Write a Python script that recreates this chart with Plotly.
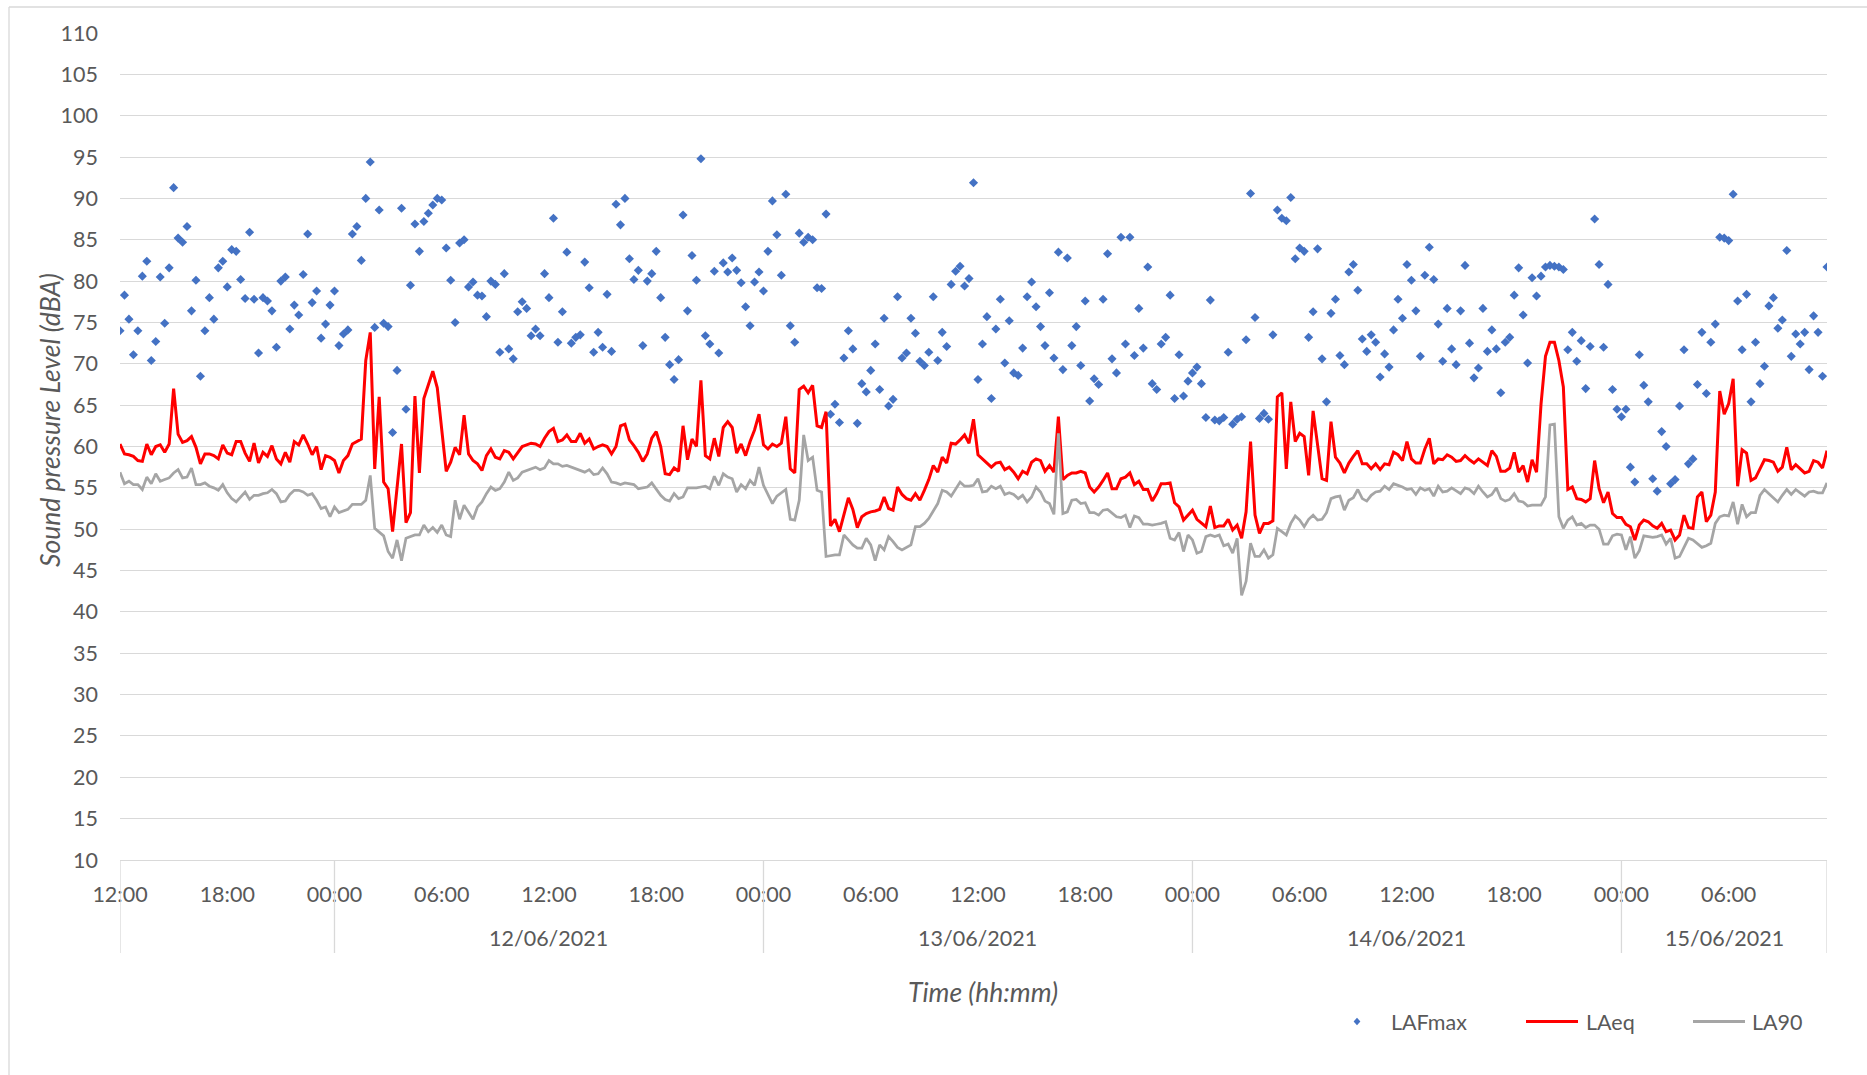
import pandas as pd
import plotly.graph_objects as go

# ---------------- data (15-minute samples from 11/06/2021 12:00) ----------------
START = "2021-06-11 12:00"
STEP = "15min"

LAFMAX = [
    74.0, 78.3, 75.4, 71.1, 74.0, 80.6, 82.4, 70.4, 72.7, 80.5, 74.9, 81.6, 91.3, 85.2, 84.7, 86.6,
    76.4, 80.1, 68.5, 74.0, 78.0, 75.4, 81.6, 82.4, 79.3, 83.8, 83.6, 80.2, 77.9, 85.9, 77.8, 71.3,
    78.0, 77.6, 76.4, 72.0, 80.0, 80.5, 74.2, 77.1, 75.9, 80.8, 85.7, 77.4, 78.8, 73.1, 74.8, 77.1,
    78.8, 72.2, 73.6, 74.1, 85.7, 86.6, 82.5, 90.0, 94.4, 74.4, 88.6, 74.9, 74.5, 61.7, 69.2, 88.8,
    64.5, 79.5, 86.9, 83.6, 87.2, 88.2, 89.2, 90.0, 89.8, 84.0, 80.1, 75.0, 84.6, 85.0, 79.3, 79.9,
    78.3, 78.2, 75.7, 80.0, 79.6, 71.4, 80.9, 71.8, 70.6, 76.3, 77.5, 76.7, 73.4, 74.2, 73.4, 80.9,
    78.0, 87.6, 72.6, 76.3, 83.5, 72.5, 73.2, 73.5, 82.3, 79.2, 71.4, 73.8, 72.0, 78.4, 71.5, 89.3,
    86.8, 90.0, 82.7, 80.2, 81.3, 72.2, 80.0, 80.9, 83.6, 78.0, 73.2, 69.9, 68.1, 70.5, 88.0, 76.4,
    83.1, 80.1, 94.8, 73.4, 72.4, 81.2, 71.3, 82.2, 81.1, 82.8, 81.3, 79.8, 76.9, 74.6, 79.9, 81.1,
    78.8, 83.6, 89.7, 85.6, 80.7, 90.5, 74.6, 72.6, 85.8, 84.7, 85.3, 85.0, 79.2, 79.1, 88.1, 63.9,
    65.1, 62.9, 70.7, 74.0, 71.8, 62.8, 67.6, 66.6, 69.2, 72.4, 66.9, 75.5, 64.9, 65.7, 78.1, 70.7,
    71.3, 75.5, 73.7, 70.3, 69.8, 71.4, 78.1, 70.4, 73.8, 72.1, 79.6, 81.2, 81.8, 79.4, 80.3, 91.9,
    68.1, 72.4, 75.7, 65.8, 74.2, 77.8, 70.1, 75.2, 68.9, 68.6, 71.9, 78.1, 79.9, 76.9, 74.5, 72.2,
    78.6, 70.7, 83.5, 69.3, 82.8, 72.2, 74.5, 69.8, 77.6, 65.5, 68.2, 67.5, 77.8, 83.3, 70.6, 68.9,
    85.3, 72.4, 85.3, 71.0, 76.7, 71.9, 81.7, 67.6, 66.9, 72.4, 73.2, 78.3, 65.8, 71.1, 66.1, 67.9,
    68.9, 69.6, 67.6, 63.5, 77.7, 63.2, 63.1, 63.5, 71.4, 62.7, 63.3, 63.6, 72.9, 90.6, 75.6, 63.4,
    64.0, 63.3, 73.5, 88.6, 87.6, 87.3, 90.1, 82.7, 84.0, 83.6, 73.2, 76.3, 83.9, 70.6, 65.4, 76.1,
    77.8, 71.0, 69.9, 81.1, 82.0, 78.9, 73.0, 71.5, 73.5, 72.6, 68.4, 71.2, 69.6, 74.1, 77.8, 75.5,
    82.0, 80.1, 76.4, 70.9, 80.7, 84.1, 80.2, 74.8, 70.3, 76.7, 71.8, 69.9, 76.4, 81.9, 72.5, 68.3,
    69.5, 76.7, 71.5, 74.1, 71.8, 66.5, 72.6, 73.2, 78.3, 81.6, 75.9, 70.1, 80.4, 78.2, 80.6, 81.7,
    81.9, 81.8, 81.7, 81.4, 71.7, 73.8, 70.3, 72.8, 67.0, 72.1, 87.5, 82.0, 72.0, 79.6, 66.9, 64.5,
    63.6, 64.5, 57.5, 55.7, 71.1, 67.4, 65.4, 56.1, 54.6, 61.8, 60.0, 55.5, 56.0, 64.9, 71.7, 57.9,
    58.5, 67.5, 73.8, 66.4, 72.6, 74.8, 85.3, 85.2, 84.9, 90.5, 77.6, 71.7, 78.4, 65.4, 72.6, 67.6,
    69.7, 77.0, 78.0, 74.3, 75.3, 83.7, 70.9, 73.6, 72.4, 73.8, 69.3, 75.8, 73.8, 68.5, 81.7,
]

LAEQ = [
    60.3, 59.1, 59.0, 58.8, 58.3, 58.2, 60.3, 59.0, 60.0, 60.2, 59.3, 60.3, 67.0, 61.5, 60.5, 60.7,
    61.2, 59.9, 57.9, 59.1, 59.1, 58.9, 58.5, 60.2, 59.2, 59.0, 60.6, 60.6, 59.2, 58.2, 60.4, 58.0,
    59.3, 58.8, 60.1, 58.5, 57.9, 59.3, 58.1, 60.6, 60.2, 61.4, 60.3, 59.0, 60.0, 57.2, 58.9, 58.7,
    58.3, 56.8, 58.3, 58.9, 60.3, 60.6, 60.9, 70.4, 73.8, 57.3, 66.0, 55.7, 54.9, 49.7, 55.0, 60.3,
    50.8, 52.0, 66.1, 56.8, 65.8, 67.4, 69.1, 67.1, 62.0, 57.0, 58.1, 59.9, 59.0, 63.8, 59.1, 58.3,
    57.9, 57.1, 58.9, 59.7, 58.7, 58.5, 59.5, 59.3, 58.5, 59.3, 60.0, 60.2, 60.4, 60.3, 60.0, 61.0,
    61.8, 62.2, 60.6, 60.8, 61.4, 60.6, 60.6, 61.6, 60.4, 60.9, 59.7, 60.0, 60.2, 60.0, 59.1, 60.0,
    62.5, 62.7, 60.8, 60.1, 59.3, 58.2, 59.1, 61.0, 61.8, 60.0, 56.7, 56.6, 57.4, 57.0, 62.5, 58.4,
    60.9, 60.0, 68.0, 58.9, 58.5, 61.0, 58.8, 62.3, 63.0, 62.3, 59.2, 60.3, 58.9, 60.6, 62.0, 63.9,
    60.2, 59.7, 60.3, 60.0, 60.4, 63.6, 57.3, 56.8, 66.9, 67.3, 66.5, 67.4, 62.5, 62.3, 64.2, 50.4,
    51.2, 49.7, 51.7, 53.8, 52.4, 50.2, 51.5, 51.9, 52.1, 52.2, 52.4, 53.9, 52.5, 52.3, 55.1, 54.2,
    53.7, 53.5, 54.3, 53.5, 54.7, 56.0, 57.7, 56.9, 58.7, 58.0, 60.4, 60.3, 60.8, 61.4, 60.4, 63.3,
    59.0, 58.5, 58.1, 57.5, 58.0, 58.1, 57.2, 57.5, 56.9, 56.1, 57.0, 56.7, 58.1, 58.5, 58.3, 57.0,
    57.7, 56.9, 63.6, 56.0, 56.5, 56.8, 56.8, 57.0, 56.8, 55.1, 54.5, 55.1, 55.9, 56.8, 54.9, 54.9,
    56.1, 56.3, 56.8, 55.4, 55.8, 54.8, 54.8, 53.4, 54.3, 55.5, 55.5, 55.6, 53.2, 52.7, 51.1, 51.7,
    52.3, 51.2, 50.7, 50.3, 52.8, 50.2, 50.4, 50.4, 51.2, 49.9, 50.5, 48.9, 52.1, 60.6, 51.7, 49.5,
    50.7, 50.7, 51.0, 66.0, 66.5, 57.3, 65.4, 60.6, 61.6, 61.2, 56.5, 64.3, 60.2, 56.1, 55.9, 63.0,
    58.7, 58.0, 56.8, 58.0, 58.8, 59.5, 57.9, 57.9, 57.3, 57.9, 57.2, 57.9, 57.8, 59.3, 59.0, 58.3,
    60.6, 58.5, 58.0, 58.0, 59.7, 61.0, 57.9, 58.5, 58.4, 59.0, 58.7, 58.2, 58.3, 58.9, 58.4, 58.0,
    58.5, 58.1, 57.7, 59.5, 58.8, 57.0, 57.0, 57.4, 59.3, 56.9, 57.7, 55.7, 58.4, 56.9, 65.1, 70.9,
    72.6, 72.6, 70.4, 67.2, 54.8, 55.1, 53.7, 53.6, 53.3, 53.7, 58.3, 54.9, 53.2, 54.5, 51.9, 51.4,
    51.4, 50.6, 50.3, 48.7, 50.5, 51.1, 50.9, 50.4, 50.1, 50.7, 49.7, 49.9, 48.7, 49.3, 51.7, 50.2,
    50.1, 53.9, 54.5, 50.9, 51.7, 54.5, 66.7, 63.9, 65.2, 68.2, 55.2, 59.6, 59.2, 55.9, 56.2, 57.3,
    58.4, 58.3, 58.1, 57.0, 57.5, 59.9, 57.2, 57.8, 57.3, 56.8, 57.0, 58.3, 58.1, 57.4, 59.5,
]

LA90 = [
    56.9, 55.5, 55.8, 55.4, 55.4, 54.8, 56.3, 55.5, 56.7, 55.8, 56.0, 56.2, 56.8, 57.2, 56.2, 56.3,
    57.4, 55.4, 55.4, 55.6, 55.2, 55.0, 54.7, 55.4, 54.4, 53.7, 53.3, 53.9, 54.5, 53.6, 54.1, 54.1,
    54.3, 54.4, 54.8, 54.3, 53.3, 53.4, 54.2, 54.7, 54.7, 54.5, 54.1, 54.3, 53.5, 52.5, 52.7, 51.5,
    52.7, 52.0, 52.2, 52.4, 53.0, 53.0, 53.0, 53.5, 56.5, 50.1, 49.6, 49.2, 47.3, 46.5, 48.7, 46.2,
    48.9, 49.1, 49.3, 49.3, 50.5, 49.7, 50.2, 49.6, 50.5, 49.3, 49.1, 53.5, 51.2, 52.9, 52.1, 51.2,
    52.7, 53.3, 54.3, 55.1, 54.7, 54.9, 55.7, 56.9, 55.9, 56.2, 56.9, 57.1, 57.3, 57.5, 57.2, 57.4,
    58.3, 57.9, 57.9, 57.6, 57.7, 57.5, 57.3, 57.1, 56.9, 57.2, 56.6, 56.7, 57.4, 56.7, 55.7, 55.6,
    55.4, 55.6, 55.5, 55.4, 54.9, 55.0, 55.1, 55.6, 54.9, 54.1, 53.6, 53.4, 54.3, 53.7, 53.9, 55.0,
    55.0, 55.0, 55.1, 55.2, 54.9, 56.4, 55.3, 56.7, 56.3, 56.1, 54.5, 55.4, 54.9, 55.9, 55.3, 57.5,
    55.3, 54.1, 53.1, 54.0, 54.4, 54.8, 51.2, 51.1, 53.5, 61.4, 58.3, 58.7, 54.7, 54.5, 46.7, 46.8,
    46.9, 46.9, 49.3, 48.7, 48.1, 47.7, 47.7, 48.9, 48.1, 46.2, 48.1, 47.5, 49.1, 48.5, 47.8, 47.5,
    47.8, 48.1, 50.3, 50.3, 50.7, 51.3, 52.2, 53.1, 54.7, 54.5, 54.0, 54.9, 55.7, 55.2, 55.2, 55.3,
    56.1, 54.5, 54.6, 55.2, 54.9, 55.2, 54.2, 54.4, 54.2, 53.7, 54.1, 53.3, 53.9, 55.1, 54.5, 53.4,
    53.1, 51.8, 61.6, 51.9, 52.1, 53.5, 53.6, 53.1, 53.2, 52.0, 52.0, 51.7, 52.3, 52.4, 52.0, 51.5,
    51.4, 51.7, 50.2, 51.6, 51.4, 50.6, 50.6, 50.5, 50.6, 50.7, 50.9, 48.9, 48.7, 49.6, 47.3, 49.3,
    48.7, 47.1, 47.3, 49.1, 49.3, 49.1, 49.3, 48.0, 48.2, 47.1, 48.9, 42.0, 43.7, 48.3, 46.7, 46.7,
    47.5, 46.5, 46.9, 50.1, 49.7, 49.3, 50.7, 51.6, 51.1, 50.3, 51.2, 51.7, 51.1, 51.2, 52.0, 53.7,
    53.9, 54.0, 52.3, 53.5, 53.8, 54.8, 53.7, 53.4, 54.1, 54.5, 54.6, 55.2, 54.8, 55.5, 55.3, 55.1,
    54.8, 54.9, 54.2, 55.0, 54.7, 54.9, 54.0, 55.2, 54.5, 54.6, 55.0, 54.7, 54.3, 55.0, 54.8, 54.3,
    55.2, 54.5, 53.9, 54.2, 55.0, 53.7, 53.4, 53.6, 54.3, 53.4, 53.3, 52.8, 52.9, 52.9, 52.9, 53.9,
    62.6, 62.7, 51.5, 50.1, 51.1, 51.5, 50.5, 50.7, 50.2, 50.5, 50.5, 50.0, 48.2, 48.2, 49.2, 49.4,
    49.3, 47.5, 49.1, 46.5, 47.4, 49.2, 49.1, 49.0, 49.1, 49.3, 48.2, 48.9, 46.5, 46.7, 47.8, 48.9,
    48.7, 48.2, 47.8, 48.0, 48.3, 50.7, 51.5, 51.7, 51.6, 53.3, 50.6, 53.0, 51.5, 52.0, 52.0, 54.1,
    54.8, 54.3, 53.8, 53.3, 54.1, 54.8, 54.2, 54.8, 54.4, 54.0, 54.5, 54.6, 54.4, 54.4, 55.6,
]

TICK_TIMES = pd.date_range("2021-06-11 12:00", "2021-06-15 06:00", freq="6h")
DAY_LABELS = ["12/06/2021", "13/06/2021", "14/06/2021", "15/06/2021"]
DAY_CENTERS = ["2021-06-12 12:00", "2021-06-13 12:00", "2021-06-14 12:00", "2021-06-15 05:45"]
SEPARATORS = ["2021-06-11 12:00", "2021-06-12 00:00", "2021-06-13 00:00",
              "2021-06-14 00:00", "2021-06-15 00:00", "2021-06-15 11:30"]
SERIES_NAMES = ["LAFmax", "LAeq", "LA90"]

times = pd.date_range(START, periods=len(LAEQ), freq=STEP)

# ---------------- layout geometry ----------------
W, H = 1867, 1075
ML, MR, MT, MB = 120, 40, 33, 215
PW, PH = W - ML - MR, H - MT - MB


def px(xpix):
    return (xpix - ML) / PW


def py(ypix):
    return (H - MB - ypix) / PH


FONT = "Lato, Carlito, Calibri, sans-serif"
TXT = "#595959"
GRID = "#d9d9d9"
BLUE, RED, GREY = "#4472C4", "#FF0000", "#A5A5A5"
TICK_SIZE = 21.5
TITLE_SIZE = 26.5

fig = go.Figure()
fig.add_trace(go.Scatter(x=times, y=LAFMAX, mode="markers", name=SERIES_NAMES[0],
                         marker=dict(symbol="diamond", size=7, color=BLUE)))
fig.add_trace(go.Scatter(x=times, y=LAEQ, mode="lines", name=SERIES_NAMES[1],
                         line=dict(color=RED, width=3)))
fig.add_trace(go.Scatter(x=times, y=LA90, mode="lines", name=SERIES_NAMES[2],
                         line=dict(color=GREY, width=2.75)))

shapes = []
for s in SEPARATORS:
    shapes.append(dict(type="line", xref="x", yref="paper", x0=s, x1=s, y0=0, y1=py(953),
                       line=dict(color=GRID, width=1.3)))
# chart-area border (left and top)
shapes.append(dict(type="line", xref="paper", yref="paper", x0=px(9), x1=px(9),
                   y0=py(7), y1=py(H + 5), line=dict(color=GRID, width=1.3)))
shapes.append(dict(type="line", xref="paper", yref="paper", x0=px(9), x1=px(W + 5),
                   y0=py(7), y1=py(7), line=dict(color=GRID, width=1.3)))

# legend (drawn manually to match the original placement)
LEG_Y = 1021.5
dx, dy = 3.4 / PW, 3.8 / PH
cx, cy = px(1357), py(LEG_Y)
shapes.append(dict(type="path", xref="paper", yref="paper",
                   path=f"M {cx - dx} {cy} L {cx} {cy + dy} L {cx + dx} {cy} L {cx} {cy - dy} Z",
                   fillcolor=BLUE, line=dict(color=BLUE, width=0)))
shapes.append(dict(type="line", xref="paper", yref="paper", x0=px(1526), x1=px(1578),
                   y0=py(LEG_Y), y1=py(LEG_Y), line=dict(color=RED, width=3)))
shapes.append(dict(type="line", xref="paper", yref="paper", x0=px(1693), x1=px(1745),
                   y0=py(LEG_Y), y1=py(LEG_Y), line=dict(color=GREY, width=3)))

annotations = []
for lbl, xl in zip(SERIES_NAMES, [1389, 1584, 1750]):
    annotations.append(dict(text=lbl, xref="paper", yref="paper", x=px(xl), y=py(LEG_Y),
                            xanchor="left", yanchor="middle", showarrow=False,
                            font=dict(family=FONT, size=TICK_SIZE, color=TXT)))
for lbl, c in zip(DAY_LABELS, DAY_CENTERS):
    annotations.append(dict(text=lbl, xref="x", yref="paper", x=c, y=py(937.5),
                            xanchor="center", yanchor="middle", showarrow=False,
                            font=dict(family=FONT, size=TICK_SIZE, color=TXT)))
annotations.append(dict(text="<i>Sound pressure Level (dBA)</i>", xref="paper", yref="paper",
                        x=px(50), y=py(420), textangle=-90, xanchor="center", yanchor="middle",
                        showarrow=False, font=dict(family=FONT, size=TITLE_SIZE, color=TXT)))
annotations.append(dict(text="<i>Time (hh:mm)</i>", xref="paper", yref="paper",
                        x=px(983), y=py(992), xanchor="center", yanchor="middle",
                        showarrow=False, font=dict(family=FONT, size=TITLE_SIZE, color=TXT)))

fig.update_layout(
    width=W, height=H,
    margin=dict(l=ML, r=MR, t=MT, b=MB, autoexpand=False),
    paper_bgcolor="white", plot_bgcolor="white",
    showlegend=False,
    font=dict(family=FONT, size=TICK_SIZE, color=TXT),
    shapes=shapes, annotations=annotations,
    xaxis=dict(
        range=[times[0], times[-1]],
        tickmode="array", tickvals=list(TICK_TIMES), tickformat="%H:%M",
        showgrid=False, zeroline=False,
        showline=True, linecolor=GRID, linewidth=1.3,
        ticks="", ticklabelstandoff=15,
        tickfont=dict(family=FONT, size=TICK_SIZE, color=TXT),
    ),
    yaxis=dict(
        range=[10, 110], dtick=5, tick0=10,
        showgrid=True, gridcolor=GRID, gridwidth=1.3,
        zeroline=False, showline=False,
        ticks="", ticklabelstandoff=21,
        tickfont=dict(family=FONT, size=TICK_SIZE, color=TXT),
    ),
)

fig.write_html("out.html")
